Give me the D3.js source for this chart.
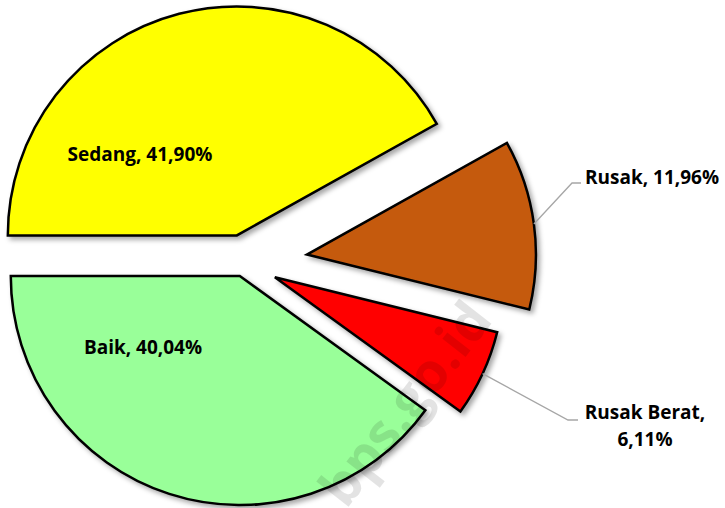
<!DOCTYPE html>
<html>
<head>
<meta charset="utf-8">
<script src="https://cdn.jsdelivr.net/npm/d3@7"></script>
<style>
  body { margin: 0; background: #fff; }
  text { font-family: "Open Sans", "Noto Sans", sans-serif; font-weight: bold; }
</style>
</head>
<body>
<div id="chart"></div>
<script>
// data
var categories = ["Sedang", "Rusak", "Rusak Berat", "Baik"];
var values = [41.90, 11.96, 6.11, 40.04];
var labels = ["Sedang, 41,90%", "Rusak, 11,96%", "Rusak Berat,|6,11%", "Baik, 40,04%"];

var width = 725,
  height = 508,
  radius = 229,
  cx = 244,
  cy = 263;

// how far each slice is pulled out from the centre
var explode = { "Sedang": 28.5, "Rusak": 63.5, "Rusak Berat": 34, "Baik": 13.7 };
var colors = d3.scaleOrdinal()
  .domain(categories)
  .range(["#ffff00", "#c55a11", "#ff0000", "#99ff99"]);

var svg = d3.select("#chart").append("svg")
  .attr("width", width)
  .attr("height", height);

var defs = svg.append("defs");
var shadow = defs.append("filter")
  .attr("id", "shadow")
  .attr("x", "-10%").attr("y", "-10%")
  .attr("width", "130%").attr("height", "130%");
shadow.append("feDropShadow")
  .attr("dx", 3).attr("dy", 3)
  .attr("stdDeviation", 2.5)
  .attr("flood-color", "#000")
  .attr("flood-opacity", 0.35);

var pie = d3.pie()
  .sort(null)
  .startAngle(-Math.PI / 2)
  .endAngle(3 * Math.PI / 2);

var arc = d3.arc()
  .innerRadius(0)
  .outerRadius(radius);

var arcs = pie(values);

function offset(d, i) {
  var a = (d.startAngle + d.endAngle) / 2;
  var e = explode[categories[i]];
  return [cx + Math.sin(a) * e, cy - Math.cos(a) * e];
}

var g = svg.append("g");

g.selectAll("path")
  .data(arcs)
  .enter().append("path")
  .attr("d", arc)
  .attr("transform", function(d, i) {
    var p = offset(d, i);
    return "translate(" + p[0] + "," + p[1] + ")";
  })
  .attr("fill", function(d, i) { return colors(categories[i]); })
  .attr("stroke", "#000")
  .attr("stroke-width", 2.5)
  .attr("stroke-linejoin", "miter")
  .attr("filter", "url(#shadow)");

// labels inside the two big slices
var inside = [
  { i: 0, x: 140, y: 161 },
  { i: 3, x: 143, y: 354 }
];
inside.forEach(function(o) {
  svg.append("text")
    .attr("x", o.x)
    .attr("y", o.y)
    .attr("text-anchor", "middle")
    .attr("font-size", 19)
    .attr("fill", "#000")
    .text(labels[o.i]);
});

// outside labels with leader lines
var outside = [
  { i: 1, elbow: [572, 183], end: [581, 183], tx: 652, ty: 184 },
  { i: 2, elbow: [568, 420], end: [578, 420], tx: 645, ty: 419 }
];
outside.forEach(function(o) {
  var d = arcs[o.i];
  var a = (d.startAngle + d.endAngle) / 2;
  var c = offset(d, o.i);
  var start = [c[0] + Math.sin(a) * radius, c[1] - Math.cos(a) * radius];
  svg.append("path")
    .attr("d", d3.line()([start, o.elbow, o.end]))
    .attr("fill", "none")
    .attr("stroke", "#a6a6a6")
    .attr("stroke-width", 1.3);
  var lines = labels[o.i].split("|");
  var t = svg.append("text")
    .attr("text-anchor", "middle")
    .attr("font-size", 19)
    .attr("fill", "#000");
  lines.forEach(function(l, k) {
    t.append("tspan")
      .attr("x", o.tx)
      .attr("y", o.ty + k * 27)
      .text(l);
  });
});

// watermark
svg.append("text")
  .attr("transform", "translate(346,510) rotate(-52)")
  .attr("font-size", 54)
  .attr("fill", "#000")
  .attr("fill-opacity", 0.11)
  .text("bps.go.id");
</script>
</body>
</html>
